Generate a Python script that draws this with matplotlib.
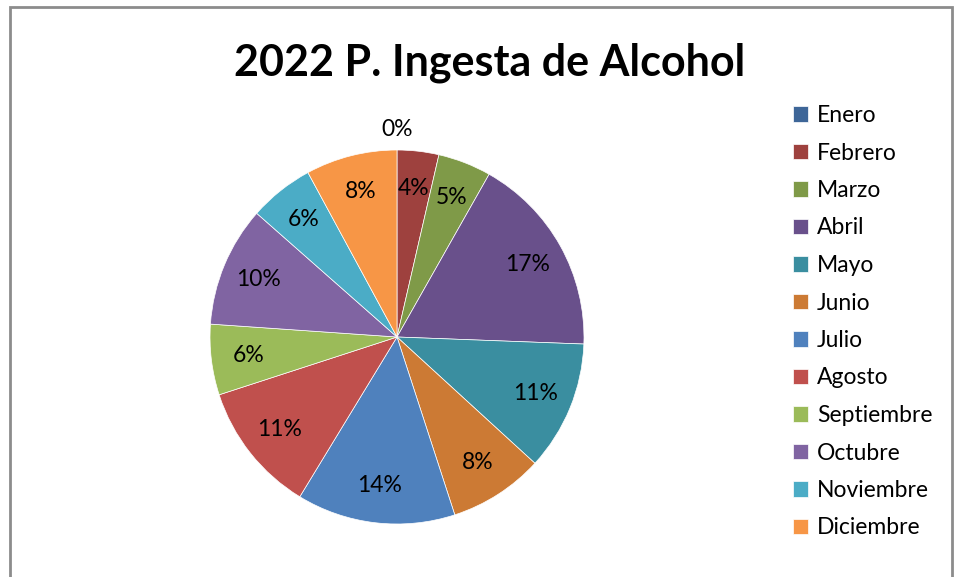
import matplotlib
matplotlib.use('Agg')
import matplotlib.pyplot as plt
from matplotlib.patches import Rectangle

meses = ['Enero', 'Febrero', 'Marzo', 'Abril', 'Mayo', 'Junio', 'Julio',
         'Agosto', 'Septiembre', 'Octubre', 'Noviembre', 'Diciembre']
valores = [0, 3.6, 4.6, 17.4, 11.2, 8.2, 13.7, 11.3, 6.1, 10.4, 5.6, 7.9]
colores = ['#3E6698', '#9E413E', '#7F9A48', '#69508B', '#3A8EA0', '#CC7A34',
           '#4F81BD', '#C0504D', '#9BBB59', '#8064A2', '#4BACC6', '#F79646']

plt.rcParams['font.family'] = ['Lato', 'DejaVu Sans']

fig = plt.figure(figsize=(9.56, 5.77), dpi=100)

# borde gris del grafico
fig.patches.append(Rectangle((10/956, -0.05), 942/956, (577-7)/577 + 0.05,
                             transform=fig.transFigure, fill=False,
                             edgecolor='#8c8c8c', linewidth=2))

ax = fig.add_axes([210/956, 53/577, 374/956, 374/577])
wedges, texts, autotexts = ax.pie(valores, colors=colores, startangle=90,
                                  counterclock=False, autopct='%1.0f%%',
                                  pctdistance=0.8,
                                  wedgeprops=dict(edgecolor='white', linewidth=0.5),
                                  textprops=dict(fontsize=16.5, color='black'))
# la etiqueta 0% queda fuera del circulo
autotexts[0].set_position((0, 1.11))
ax.set_xlim(-1, 1)
ax.set_ylim(-1, 1)
ax.set_aspect('equal')

fig.text(490/956, 1 - 63/577, '2022 P. Ingesta de Alcohol', ha='center', va='center',
         fontsize=31, fontweight='bold')

fig.legend(wedges, meses, loc='upper left', bbox_to_anchor=(793/956, 1 - 105/577),
           frameon=False, fontsize=16.5, handlelength=0.64, handleheight=0.64,
           handletextpad=0.4, labelspacing=0.72, borderpad=0, borderaxespad=0)

fig.savefig('out.png', dpi=100)
